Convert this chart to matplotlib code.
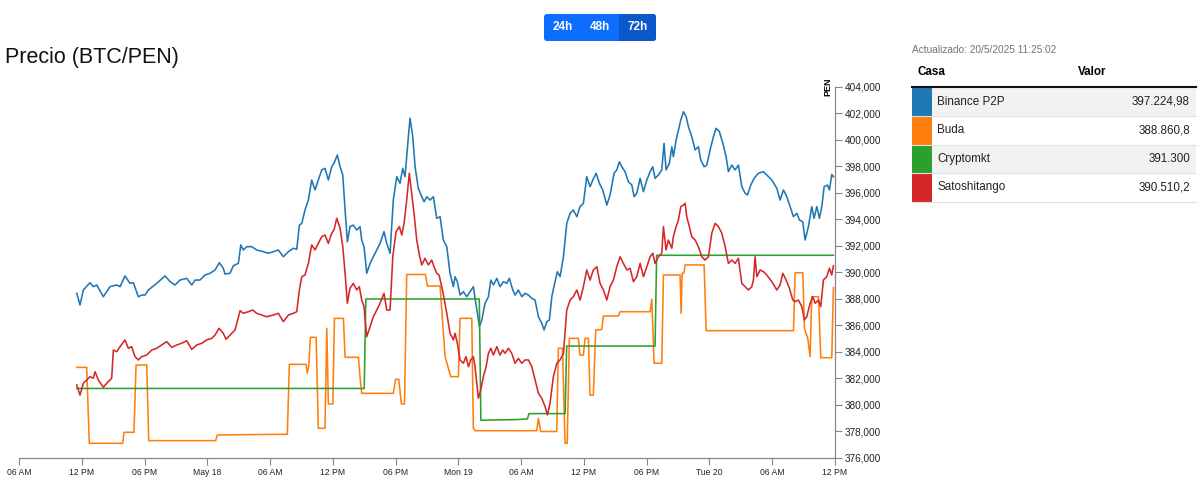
import numpy as np
import matplotlib.pyplot as plt
from matplotlib.patches import FancyBboxPatch, Rectangle
from matplotlib.ticker import FuncFormatter

plt.rcParams['font.family'] = ['Liberation Sans', 'DejaVu Sans']

# hours since 17 May 2025 06:00, prices in thousands of PEN
binance_t = [5.52, 5.83, 6.15, 6.79, 7.10, 7.43, 8.06, 8.70, 9.34, 9.66, 10.13, 10.61, 10.93, 11.41, 11.73,
             12.05, 12.36, 13.16, 13.96, 14.44, 14.91, 15.39, 16.03, 16.51, 16.83, 17.30, 17.78, 18.26, 18.74,
             19.15, 19.53, 19.69, 20.17, 20.49, 20.97, 21.20, 21.44, 21.77, 22.25, 22.72, 23.36, 23.83,
             24.31, 24.79, 25.27, 25.75, 26.22, 26.55, 26.80, 27.03, 27.34, 27.66, 27.98, 28.30, 28.61, 28.94,
             29.25, 29.57, 29.89, 30.11, 30.43, 30.69, 30.95, 31.17, 31.39, 31.64, 31.96, 32.28, 32.60, 32.76,
             32.98, 33.24, 33.56, 33.87, 34.20, 34.51, 34.89, 35.15, 35.47, 35.78, 36.11, 36.42, 36.68, 36.90,
             37.22, 37.38, 37.64, 37.86, 38.17, 38.50, 38.72, 38.98, 39.29, 39.61, 39.93, 40.25, 40.56, 40.89,
             41.20, 41.52, 41.68, 41.90, 42.16, 42.48, 42.80, 43.12, 43.43, 43.59, 43.82, 44.01, 44.24, 44.55,
             44.87, 45.10, 45.35, 45.67, 45.98, 46.30, 46.63, 46.87, 47.20, 47.42, 47.73, 48.06, 48.37, 48.69,
             49.02, 49.33, 49.65, 49.97, 50.19, 50.45, 50.70, 50.93, 51.24, 51.46, 51.72, 52.04, 52.36, 52.68,
             52.99, 53.32, 53.63, 53.95, 54.27, 54.59, 54.85, 55.16, 55.48, 55.80, 56.19, 56.50, 56.88, 57.14,
             57.39, 57.62, 57.93, 58.25, 58.58, 58.80, 59.05,
             59.37, 59.69, 60.01, 60.33, 60.58, 60.80, 61.12, 61.44, 61.66, 61.85, 62.17, 62.40, 62.55, 62.81,
             63.03, 63.26, 63.51, 63.77, 63.99, 64.31, 64.63, 64.94, 65.17, 65.49, 65.74, 66.06, 66.38, 66.63,
             66.95, 67.28, 67.59, 67.81, 68.13, 68.45, 68.77, 69.09, 69.41, 69.63, 69.95, 70.27, 70.68, 71.16,
             71.48, 71.96, 72.44, 72.75, 73.07, 73.39, 73.71, 74.03, 74.35, 74.60, 74.92, 75.14, 75.46, 75.78,
             76.00, 76.26, 76.51, 76.74, 76.96, 77.28, 77.47, 77.69, 77.85]
binance_v = [388.43, 387.55, 388.68, 389.23, 388.93, 389.06, 388.17, 388.93, 389.06, 388.93, 389.74, 389.18,
             389.23, 388.17, 388.30, 388.30, 388.68, 389.18, 389.74, 389.31, 389.06, 389.43, 389.56, 389.06,
             389.43, 389.43, 389.81, 389.94, 390.19, 390.74, 390.32, 389.89, 389.94, 390.51, 390.69, 392.08,
             391.70, 391.95, 391.95, 391.70, 391.57, 391.45,
             391.57, 391.70, 391.19, 391.57, 391.83, 391.75, 393.58, 393.71, 394.72, 395.47, 396.98, 396.23,
             396.98, 397.74, 397.86, 396.98, 397.98, 398.24, 398.87, 397.98, 397.36, 394.72, 392.32, 393.46,
             393.58, 393.21, 393.46, 392.45, 391.95, 389.94, 390.69, 391.19, 391.70, 392.20, 393.08, 392.20,
             391.45, 395.47, 397.23, 396.73, 397.86, 397.23, 400.25, 401.64, 400.25, 397.98, 396.35, 395.72,
             395.34, 395.72, 395.47, 395.72, 394.09, 394.21, 392.45, 391.95,
             389.94, 388.93, 389.68, 389.31, 388.30, 388.55, 388.17, 388.55, 388.93, 388.05, 386.92, 385.91,
             386.42, 387.68, 388.17, 389.43, 389.06, 389.56, 388.93, 389.31, 389.18, 389.56, 388.68, 388.30,
             388.68, 388.17, 388.43, 388.30, 388.05, 387.92, 386.66, 386.17, 385.66, 386.29, 386.42, 388.17,
             389.31, 390.06, 389.68, 391.19, 393.71, 394.47, 394.72, 394.21, 394.97, 395.22, 397.23, 396.48,
             396.98, 397.49, 396.73, 396.23, 395.09, 395.85, 397.49, 397.74, 398.36, 397.98, 397.61, 396.85,
             396.60, 395.72, 395.98,
             397.11, 396.10, 396.98, 397.61, 397.98, 397.11, 397.36, 397.74, 399.75, 397.74, 398.24, 399.49,
             398.74, 400.00, 400.75, 401.51, 402.14, 401.76, 401.00, 400.25, 399.25, 399.49, 398.49, 397.98,
             398.11, 399.25, 400.25, 400.88, 400.63, 399.75, 398.74, 397.61, 398.11, 397.74, 398.11, 396.48,
             395.98, 395.85, 396.60, 397.11, 397.49, 397.61, 397.36, 396.98, 396.35, 395.47, 396.23, 395.72,
             394.97, 394.21, 394.47, 393.96, 393.83, 392.45, 393.46, 394.97, 394.09, 394.97, 394.09, 394.97,
             396.48, 396.60, 396.23, 397.40, 397.22]

buda_t = [5.52, 6.47, 6.72, 9.91, 10.04, 10.99, 11.19, 12.21, 12.40, 18.80, 18.96, 25.65, 25.84, 27.45, 27.55,
          27.70, 27.85, 28.40, 28.61, 29.25, 29.42, 29.57, 30.00, 30.15, 31.01, 31.17, 32.44, 32.60, 32.76,
          35.78, 36.00, 36.30, 36.55, 36.85, 37.06, 38.85, 39.04, 40.25, 40.73, 41.27, 42.00, 42.16, 43.28,
          43.43, 43.60, 49.49, 49.65, 49.87, 51.40, 51.56, 51.95, 52.20, 52.40, 52.61, 53.47, 53.62, 53.95,
          54.11, 54.43, 54.58, 54.90, 55.13, 55.70, 55.86, 57.30, 57.46, 60.33, 60.49, 60.71, 61.44, 61.60,
          63.19, 63.29, 63.39, 63.55, 63.67, 65.49, 65.68, 74.03, 74.19, 74.92, 75.08, 75.40, 75.62, 75.78,
          76.42, 76.64, 77.69, 77.85]
buda_v = [382.84, 382.84, 377.11, 377.11, 377.94, 377.94, 383.02, 383.02, 377.31, 377.31, 377.74, 377.79,
          383.07, 383.07, 382.39, 383.00, 385.11, 385.11, 378.24, 378.24, 385.79, 380.08, 380.08, 386.54,
          386.54, 383.60, 383.60, 382.14, 380.88, 380.88, 381.94, 381.94, 380.08, 380.08, 389.85, 389.85,
          388.98, 388.98, 383.65, 382.14, 382.14, 386.54, 386.54, 378.24, 378.06, 378.06, 379.00, 378.00,
          378.00, 384.28, 384.28, 377.11, 377.11, 385.03, 385.03, 383.77, 383.77, 385.03, 385.03, 380.75,
          380.75, 385.66, 385.70, 386.72, 386.72, 387.04, 387.04, 387.98, 383.15, 383.15, 389.81, 389.81,
          386.92, 389.94, 389.94, 390.57, 390.57, 385.61, 385.61, 389.98, 389.98, 385.79, 385.00, 383.65,
          388.17, 388.17, 383.57, 383.57, 388.86]

cryptomkt_t = [5.52, 33.00, 33.15, 44.00, 44.15, 47.60, 48.60, 48.75, 52.20, 52.35, 60.80, 60.95, 77.85]
cryptomkt_v = [381.25, 381.25, 388.00, 388.00, 378.85, 378.90, 378.95, 379.35, 379.35, 384.45, 384.45,
               391.30, 391.30]

satoshi_t = [5.52, 5.83, 6.15, 6.47, 6.79, 7.10, 7.27, 7.58, 8.06, 8.38, 8.86, 9.02, 9.34, 9.66, 10.13, 10.45,
             10.77, 11.09, 11.41, 11.73, 12.21, 12.69, 13.16, 13.64, 14.12, 14.60, 15.08, 15.55, 16.03, 16.51,
             16.99, 17.47, 17.94, 18.42, 18.74, 19.12, 19.53, 19.79, 20.17, 20.65, 21.13, 21.44, 21.92, 22.34,
             22.72, 23.20, 23.68,
             24.31, 24.79, 25.27, 25.75, 26.22, 26.55, 26.80, 27.03, 27.34, 27.66, 27.98, 28.30, 28.61, 28.94,
             29.25, 29.57, 29.89, 30.11, 30.37, 30.69, 30.95, 31.17, 31.39, 31.64, 31.96, 32.28, 32.53, 32.76,
             32.98, 33.24, 33.56, 33.87, 34.20, 34.51, 34.89, 35.15, 35.47, 35.73, 36.04, 36.36, 36.59, 36.81,
             37.06, 37.31, 37.54, 37.76, 38.02, 38.27, 38.50, 38.81, 39.13, 39.45, 39.67, 39.93, 40.15, 40.41,
             40.63, 40.89,
             41.20, 41.52, 41.68, 41.90, 42.16, 42.48, 42.73, 42.96, 43.18, 43.43, 43.59, 43.76, 43.91, 44.14,
             44.39, 44.65, 44.87, 45.10, 45.35, 45.67, 45.98, 46.24, 46.46, 46.78, 47.10, 47.42, 47.73, 48.06,
             48.37, 48.69, 49.02, 49.33, 49.65, 49.97, 50.29, 50.51, 50.76, 51.08, 51.41, 51.72, 52.04, 52.36,
             52.68, 52.99, 53.32, 53.63, 53.95, 54.27, 54.59, 54.90, 55.23, 55.54, 55.86, 56.19, 56.50, 56.82,
             57.14, 57.46, 57.77, 58.10, 58.41, 58.73, 59.05,
             59.37, 59.69, 60.01, 60.33, 60.58, 60.80, 61.12, 61.44, 61.60, 61.85, 62.07, 62.40, 62.55, 62.81,
             63.03, 63.26, 63.51, 63.67, 63.83, 64.08, 64.31, 64.63, 64.94, 65.27, 65.58, 65.90, 66.22, 66.54,
             66.86, 67.18, 67.50, 67.81, 68.13, 68.45, 68.77, 69.09, 69.41, 69.72, 70.05, 70.20, 70.36, 70.53,
             70.84, 71.16, 71.48, 71.96, 72.44, 72.75, 73.01, 73.33, 73.64, 73.97, 74.19, 74.50, 74.83, 75.08,
             75.30, 75.62, 75.88, 76.10, 76.42, 76.64, 76.89, 77.21, 77.47, 77.69, 77.85]
satoshi_v = [381.51, 380.75, 381.64, 381.89, 382.14, 382.02, 382.51, 381.89, 381.34, 381.64, 382.02, 384.15,
             384.02, 384.40, 384.91, 384.28, 384.40, 383.65, 383.40, 383.65, 383.77, 384.15, 384.28, 384.53,
             384.78, 384.35, 384.53, 384.66, 384.85, 384.20, 384.53, 384.66, 384.91, 385.03, 385.28, 385.79,
             385.41, 384.96, 385.28, 385.66, 387.12, 386.92, 387.04, 387.17, 386.92, 386.79, 386.66,
             386.79, 386.92, 386.29, 386.79, 386.92, 387.04, 388.68, 389.68, 389.81, 390.69, 392.08, 391.70,
             392.20, 392.70, 392.83, 392.20, 392.96, 393.21, 394.09, 393.34, 391.95, 389.94, 387.68, 388.81,
             389.18, 388.68, 388.93, 387.92, 387.42, 385.15, 385.91, 386.66, 387.17, 387.68, 388.43, 387.17,
             387.17, 391.19, 393.08, 393.46, 392.83, 393.71, 395.47, 397.49, 395.98, 394.47, 392.45, 391.32,
             390.57, 391.07, 390.57, 390.94, 390.44, 389.94, 389.81, 388.93, 388.05, 386.92,
             385.41, 384.91, 385.41, 384.66, 383.40, 383.15, 383.65, 382.89, 383.40, 383.65, 382.89, 381.64,
             380.51, 381.13, 382.14, 382.89, 383.90, 384.28, 383.77, 384.40, 383.77, 384.15, 383.90, 384.28,
             383.90, 383.15, 383.52, 383.15, 383.40, 383.40, 382.89, 381.89, 380.88, 380.51, 379.87, 379.25,
             380.13, 382.14, 383.15, 383.40, 383.90, 387.17, 387.92, 388.17, 388.68, 387.92, 388.93, 390.19,
             389.43, 390.19, 390.44, 389.18, 388.68, 387.92, 388.93, 389.43, 390.44, 391.19, 390.69, 390.19,
             390.32, 389.31, 389.68,
             390.69, 389.68, 390.44, 391.19, 391.45, 390.69, 391.19, 391.45, 393.46, 391.70, 392.45, 391.83,
             392.70, 393.46, 393.96, 394.97, 395.09, 395.22, 394.21, 393.46, 392.70, 392.45, 391.95, 391.19,
             390.94, 391.19, 392.96, 393.71, 393.46, 392.96, 391.95, 390.69, 390.94, 390.69, 391.07, 389.18,
             388.93, 388.68, 388.93, 389.43, 391.19, 389.68, 390.19, 390.06, 389.81, 389.31, 388.68, 389.06,
             389.94, 389.43, 388.81, 387.92, 387.80, 387.92, 387.42, 386.42, 386.66, 387.68, 388.17, 387.68,
             387.92, 387.42, 389.43, 389.68, 390.32, 389.81, 390.51]

tick_hours = list(range(0, 79, 6))
tick_labels = ["06 AM", "12 PM", "06 PM", "May 18", "06 AM", "12 PM", "06 PM", "Mon 19",
               "06 AM", "12 PM", "06 PM", "Tue 20", "06 AM", "12 PM"]

casas = ["Binance P2P", "Buda", "Cryptomkt", "Satoshitango"]
ultimos = [397224.98, 388860.8, 391300.0, 390510.2]
colores = ["#1f77b4", "#ff7f0e", "#2ca02c", "#d62728"]


def fmt_es(v):
    s = f"{v:,.2f}".rstrip("0").rstrip(".")
    return s.replace(",", "#").replace(".", ",").replace("#", ".")


fig = plt.figure(figsize=(12, 4.92), dpi=100)

# page overlay in pixel units (title, buttons, table)
bg = fig.add_axes([0, 0, 1, 1])
bg.set_xlim(0, 1200)
bg.set_ylim(492, 0)
bg.axis("off")

bg.text(5, 57, "Precio (BTC/PEN)", fontsize=15.5, va="center", ha="left", color="#111")

# 24h / 48h / 72h buttons
bg.add_patch(FancyBboxPatch((544, 14), 112, 27, boxstyle="round,pad=0,rounding_size=3",
                            fc="#0d6efd", ec="none"))
bg.add_patch(FancyBboxPatch((619, 14), 37, 27, boxstyle="round,pad=0,rounding_size=3",
                            fc="#0a58ca", ec="none"))
bg.add_patch(Rectangle((619, 14), 8, 27, fc="#0a58ca", ec="none"))
for lbl, cx in zip(["24h", "48h", "72h"], [563, 600.5, 637.5]):
    bg.text(cx, 27.5, lbl, color="white", fontsize=8.5, fontweight="bold", ha="center", va="center")

# legend table
bg.text(912, 50, "Actualizado: 20/5/2025 11:25:02", fontsize=7.3, color="#6c757d", va="center")
bg.text(917, 72, "Casa", fontsize=8.4, fontweight="bold", va="center")
bg.text(1078, 72, "Valor", fontsize=8.4, fontweight="bold", va="center")
bg.plot([912, 1196], [86.5, 86.5], color="#111", lw=1.5)
row_h = 28.5
for i, (casa, val, col) in enumerate(zip(casas, ultimos, colores)):
    top = 87.5 + i * row_h
    if i % 2 == 0:
        bg.add_patch(Rectangle((912, top), 284, row_h, fc="#f2f2f2", ec="none"))
    bg.add_patch(Rectangle((912, top), 20, row_h, fc=col, ec="none"))
    bg.plot([912, 1196], [top + row_h, top + row_h], color="#dee2e6", lw=0.8)
    bg.text(937, top + row_h / 2, casa, fontsize=8.4, va="center", color="#222")
    bg.text(1190, top + row_h / 2, fmt_es(val), fontsize=8.4, va="center", ha="right", color="#222")

# chart
ax = fig.add_axes([19 / 1200, 34 / 492, 816 / 1200, 371 / 492])
ax.patch.set_alpha(0)
series = [(binance_t, binance_v), (buda_t, buda_v), (cryptomkt_t, cryptomkt_v), (satoshi_t, satoshi_v)]
for (t, v), col in zip(series, colores):
    ax.plot(t, np.array(v) * 1000, color=col, lw=1.15, solid_joinstyle="round")

ax.set_xlim(0, 78)
ax.set_ylim(376000, 404000)
ax.set_xticks(tick_hours)
ax.set_xticklabels(tick_labels)
ax.set_yticks(np.arange(376000, 404001, 2000))
ax.yaxis.set_major_formatter(FuncFormatter(lambda v, p: f"{int(v):,}"))
ax.yaxis.tick_right()
for s in ["left", "top"]:
    ax.spines[s].set_visible(False)
for s in ["right", "bottom"]:
    ax.spines[s].set_color("#888")
    ax.spines[s].set_linewidth(0.9)
ax.tick_params(axis="both", direction="out", length=5, width=0.8, color="#888",
               labelcolor="#222", pad=2)
ax.tick_params(axis="y", labelsize=7.2)
ax.tick_params(axis="x", labelsize=6.2)
ax.annotate("PEN", xy=(1, 1), xycoords="axes fraction", xytext=(-2, 0), textcoords="offset points",
            rotation=90, ha="right", va="center", fontsize=6.5, fontweight="bold")

fig.savefig("out.png", dpi=100)
